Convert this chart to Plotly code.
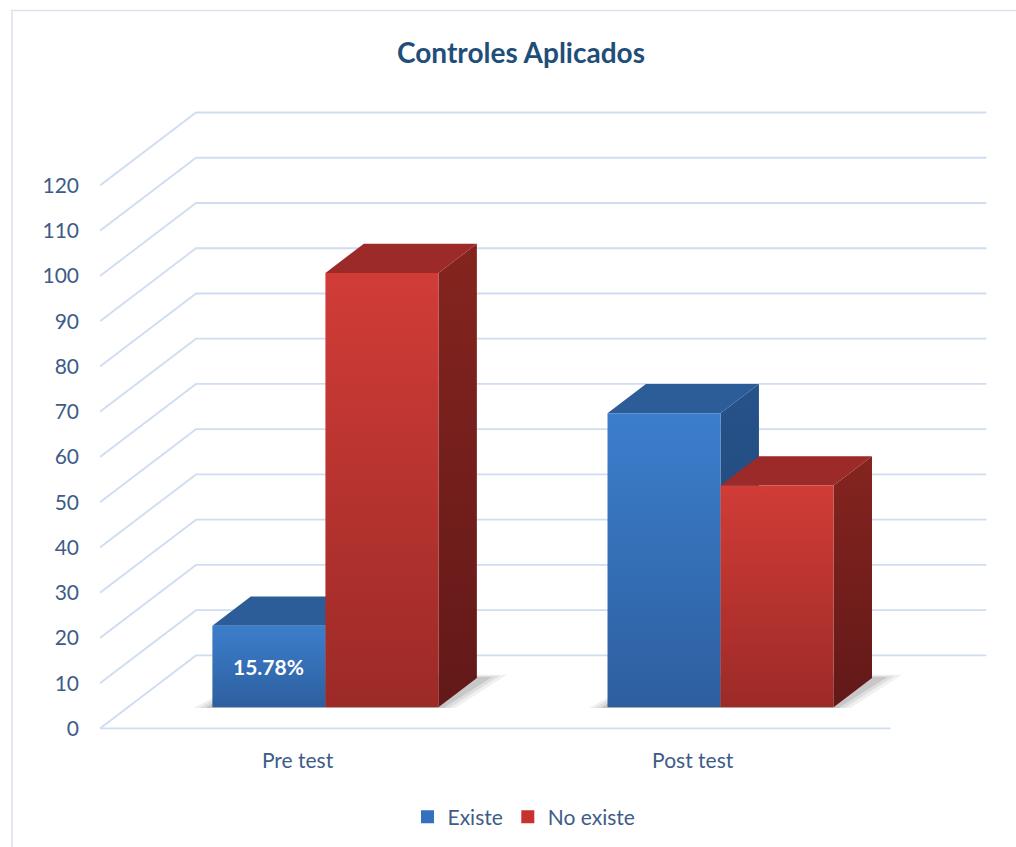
import plotly.graph_objects as go

# ---------------- data ----------------
categories = ["Pre test", "Post test"]
series_names = ["Existe", "No existe"]
existe = [18, 65]
no_existe = [96, 49]
data_labels = [["15.78%", ""], ["", ""]]   # per series, per category
y_ticks = list(range(0, 121, 10))

# ---------------- styling / geometry ----------------
W, H = 1016, 847
X0PX, UNIT_X = 100.0, 395.0      # px of x=0, px per category
Y0PX, UNIT_Y = 728.0, 4.525      # px of value 0 (front), px per value unit
XMAX = 2.26
YMIN, YMAX = -3.0, 140.0
DX = 96.0 / UNIT_X               # floor depth in x units
DY = 73.0 / UNIT_Y               # floor depth in value units
D0, D1 = 0.29, 0.69              # bar depth span (fraction of floor depth)
BAR_W = 113.0 / UNIT_X

FONT = "Lato"
TXT = "#3E5C87"
GRID = "#D0DDF1"

colors = {
    "Existe": dict(front=("#2D5F9F", "#3C7ECC"), top="#2C5D98", side=("#1F4675", "#26528A"), legend="#3470C0"),
    "No existe": dict(front=("#9C2A27", "#D13C37"), top="#9B2A29", side=("#621918", "#85241F"), legend="#C8322E"),
}

l = X0PX
plot_w = XMAX * UNIT_X
r = W - l - plot_w
t = Y0PX - YMAX * UNIT_Y
bottom_px = Y0PX - YMIN * UNIT_Y
b = H - bottom_px
plot_h = bottom_px - t


def proj(x, v, d):
    return x + d * DX, v + d * DY


fig = go.Figure()

# gridlines (front diagonal + back wall)
gx, gy = [], []
for v in y_ticks:
    p0 = proj(0, v, 0)
    p1 = proj(0, v, 1)
    p2 = proj(len(categories), v, 1)
    gx += [p0[0], p1[0], p2[0], None]
    gy += [p0[1], p1[1], p2[1], None]
# floor front edge
f0 = proj(0, 0, 0)
f1 = proj(len(categories), 0, 0)
gx += [f0[0], f1[0], None]
gy += [f0[1], f1[1], None]
fig.add_trace(go.Scatter(x=gx, y=gy, mode="lines", line=dict(color=GRID, width=1.8),
                         hoverinfo="skip", showlegend=False))

values = {"Existe": existe, "No existe": no_existe}


def poly(pts, **kw):
    xs = [p[0] for p in pts] + [pts[0][0]]
    ys = [p[1] for p in pts] + [pts[0][1]]
    fig.add_trace(go.Scatter(x=xs, y=ys, mode="lines", fill="toself", line=dict(width=0),
                             hoverinfo="skip", showlegend=False, **kw))


# soft shadows (layered)
for ci, cat in enumerate(categories):
    x0 = ci + 0.5 - BAR_W
    x1 = ci + 0.5 + BAR_W
    for grow, alpha in [(0.045, 0.07), (0.03, 0.09), (0.015, 0.12)]:
        pts = [proj(x0 - grow, 0, D0 - 0.01), proj(x1 + grow, 0, D0 - 0.01),
               proj(x1 + grow + 0.02, 0, D1 + grow), proj(x0, 0, D1 + grow)]
        poly(pts, fillcolor=f"rgba(40,40,40,{alpha})")

# bars
for ci, cat in enumerate(categories):
    for si, name in enumerate(series_names):
        v = values[name][ci]
        c = colors[name]
        x0 = ci + 0.5 - BAR_W + si * BAR_W
        x1 = x0 + BAR_W
        # side face
        poly([proj(x1, 0, D0), proj(x1, 0, D1), proj(x1, v, D1), proj(x1, v, D0)],
             fillgradient=dict(type="vertical", colorscale=[[0, c["side"][0]], [1, c["side"][1]]]))
        # top face
        poly([proj(x0, v, D0), proj(x1, v, D0), proj(x1, v, D1), proj(x0, v, D1)],
             fillcolor=c["top"])
        # front face
        poly([proj(x0, 0, D0), proj(x1, 0, D0), proj(x1, v, D0), proj(x0, v, D0)],
             fillgradient=dict(type="vertical", colorscale=[[0, c["front"][0]], [1, c["front"][1]]]))
        lab = data_labels[si][ci]
        if lab:
            ax, ay = proj((x0 + x1) / 2, v / 2, D0)
            fig.add_annotation(x=ax, y=ay, text=f"<b>{lab}</b>", showarrow=False,
                               font=dict(family=FONT, size=21, color="white"))

# legend entries
for name in series_names:
    fig.add_trace(go.Scatter(x=[None], y=[None], mode="markers", name=name,
                             marker=dict(symbol="square", size=13, color=colors[name]["legend"])))

# chart border
def px_to_paper(px, py):
    return (px - l) / plot_w, (bottom_px - py) / plot_h

bx0, by0 = px_to_paper(12, 10)
bx1, by1 = px_to_paper(W + 20, H + 20)
fig.add_shape(type="rect", xref="paper", yref="paper", x0=bx0, y0=by1, x1=bx1, y1=by0,
              line=dict(color="#D9E2EE", width=1.5), fillcolor="rgba(0,0,0,0)", layer="below")

fig.update_layout(
    width=W, height=H, autosize=False,
    margin=dict(l=l, r=r, t=t, b=b, pad=0),
    paper_bgcolor="white", plot_bgcolor="white",
    title=dict(text="<b>Controles Aplicados</b>", x=521 / W, xanchor="center", xref="container",
               y=1 - 53 / H, yanchor="middle", yref="container",
               font=dict(family=FONT, size=28, color="#1F4E79")),
    xaxis=dict(range=[0, XMAX], showgrid=False, zeroline=False, showline=False,
               tickvals=[i + 0.5 for i in range(len(categories))], ticktext=categories,
               ticks="", tickfont=dict(family=FONT, size=21, color=TXT), ticklabelstandoff=4),
    yaxis=dict(range=[YMIN, YMAX], showgrid=False, zeroline=False, showline=False,
               tickvals=y_ticks, ticks="", ticklabelstandoff=20,
               tickfont=dict(family=FONT, size=21, color=TXT)),
    legend=dict(orientation="h", xref="container", yref="container", x=524 / W, xanchor="center",
                y=1 - 817 / H, yanchor="middle", font=dict(family=FONT, size=21, color=TXT),
                itemwidth=30, bgcolor="rgba(0,0,0,0)"),
    showlegend=True,
)

fig.write_html("out.html")
